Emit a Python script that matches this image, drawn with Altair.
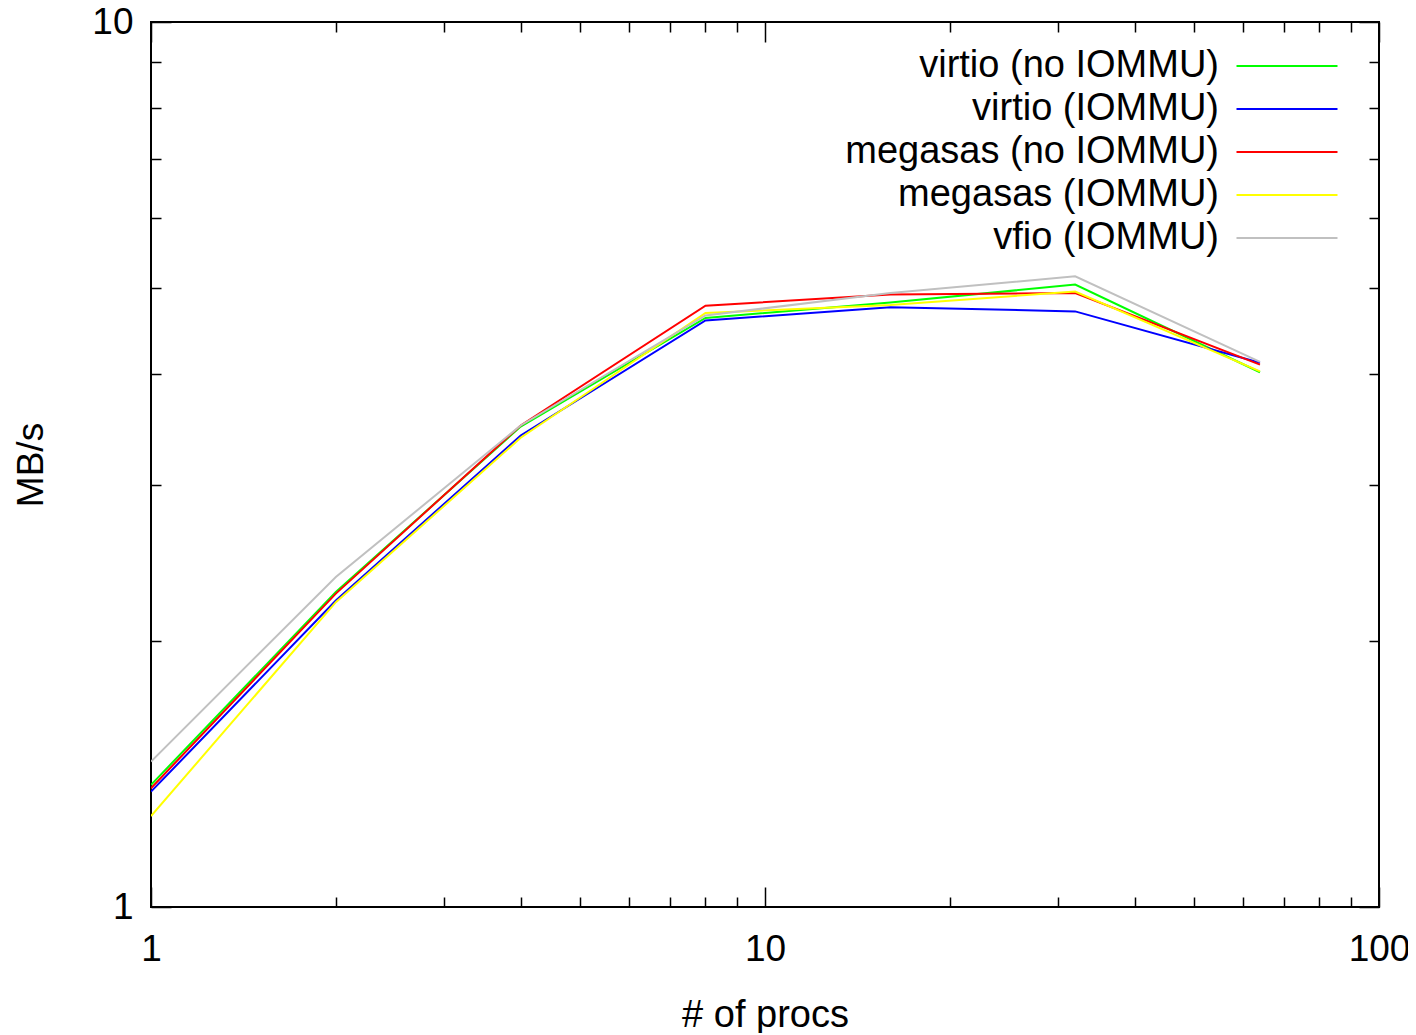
import altair as alt
import pandas as pd

procs = [1, 2, 4, 8, 16, 32, 64]
series_names = [
    "virtio (no IOMMU)",
    "virtio (IOMMU)",
    "megasas (no IOMMU)",
    "megasas (IOMMU)",
    "vfio (IOMMU)",
]
virtio_no_iommu = [1.374, 2.27, 3.49, 4.63, 4.82, 5.05, 4.02]
virtio_iommu = [1.350, 2.22, 3.41, 4.60, 4.76, 4.71, 4.12]
megasas_no_iommu = [1.362, 2.26, 3.50, 4.78, 4.92, 4.94, 4.10]
megasas_iommu = [1.267, 2.21, 3.39, 4.69, 4.79, 4.96, 4.03]
vfio_iommu = [1.46, 2.36, 3.50, 4.66, 4.94, 5.16, 4.13]
series_colors = ["#00ff00", "#0000ff", "#ff0000", "#ffff00", "#c0c0c0"]

x_label_values = [1, 10, 100]
y_label_values = [1, 10]
x_tick_values = [1, 2, 3, 4, 5, 6, 7, 8, 9, 10, 20, 30, 40, 50, 60, 70, 80, 90, 100]
y_tick_values = [1, 2, 3, 4, 5, 6, 7, 8, 9, 10]

all_series = [virtio_no_iommu, virtio_iommu, megasas_no_iommu, megasas_iommu, vfio_iommu]
rows = []
for name, vals in zip(series_names, all_series):
    for p, v in zip(procs, vals):
        rows.append({"procs": p, "mbs": v, "series": name})
df = pd.DataFrame(rows)

W, H = 1228, 885
FONT = "Liberation Sans"
major_test = "datum.value == 1 || datum.value == 10 || datum.value == 100"
tick_size = {"condition": {"test": major_test, "value": 20}, "value": 10}

xscale = alt.Scale(type="log", domain=[1, 100], nice=False)
yscale = alt.Scale(type="log", domain=[1, 10], nice=False)
color = alt.Color(
    "series:N",
    scale=alt.Scale(domain=series_names, range=series_colors),
    legend=alt.Legend(
        title=None,
        orient="none",
        legendX=1117,
        legendY=25,
        padding=0,
        symbolType="M-5,0H5",
        symbolSize=408,
        symbolStrokeWidth=2,
        symbolFillColor="transparent",
        labelFont=FONT,
        labelFontSize=38,
        labelColor="black",
        labelAlign="right",
        labelOffset={"expr": "-87"},
        labelLimit=0,
        rowPadding=5,
    ),
)

lines = alt.Chart(df).mark_line(strokeWidth=2, clip=True).encode(
    x=alt.X(
        "procs:Q",
        scale=xscale,
        axis=alt.Axis(
            values=x_label_values,
            format="d",
            ticks=False,
            domain=False,
            grid=False,
            labelFont=FONT,
            labelFontSize=37,
            labelColor="black",
            labelPadding=24,
            labelFlush=False,
            title="# of procs",
            titleFont=FONT,
            titleFontSize=38,
            titleFontWeight="normal",
            titleColor="black",
            titlePadding=29,
        ),
    ),
    y=alt.Y(
        "mbs:Q",
        scale=yscale,
        axis=alt.Axis(
            values=y_label_values,
            format="d",
            ticks=False,
            domain=False,
            grid=False,
            labelFont=FONT,
            labelFontSize=37,
            labelColor="black",
            labelPadding=18,
            labelFlush=False,
            title="MB/s",
            titleFont=FONT,
            titleFontSize=37,
            titleFontWeight="normal",
            titleColor="black",
            titlePadding=41,
        ),
    ),
    color=color,
    order=alt.Order("procs:Q"),
)


def tick_layer(x_orient, y_orient, x_off, y_off):
    return alt.Chart(df).mark_point(opacity=0).encode(
        x=alt.X(
            "procs:Q",
            scale=xscale,
            axis=alt.Axis(
                orient=x_orient,
                offset=x_off,
                values=x_tick_values,
                labels=False,
                domain=False,
                grid=False,
                title=None,
                tickSize=tick_size,
                tickWidth=1.5,
                tickColor="black",
            ),
        ),
        y=alt.Y(
            "mbs:Q",
            scale=yscale,
            axis=alt.Axis(
                orient=y_orient,
                offset=y_off,
                values=y_tick_values,
                labels=False,
                domain=False,
                grid=False,
                title=None,
                tickSize=tick_size,
                tickWidth=1.5,
                tickColor="black",
            ),
        ),
    )


ticks_a = tick_layer("top", "right", -H, -W)
ticks_b = tick_layer("bottom", "left", -H, -W)

chart = (
    alt.layer(lines, ticks_a, ticks_b)
    .resolve_axis(x="independent", y="independent")
    .properties(
        width=W,
        height=H,
        padding={"left": 143, "top": 14, "right": 29, "bottom": 126},
        autosize=alt.AutoSizeParams(type="none"),
        background="white",
    )
    .configure_view(stroke="black", strokeWidth=2)
)

chart.save("out.html", embed_options={"renderer": "svg", "actions": False})
